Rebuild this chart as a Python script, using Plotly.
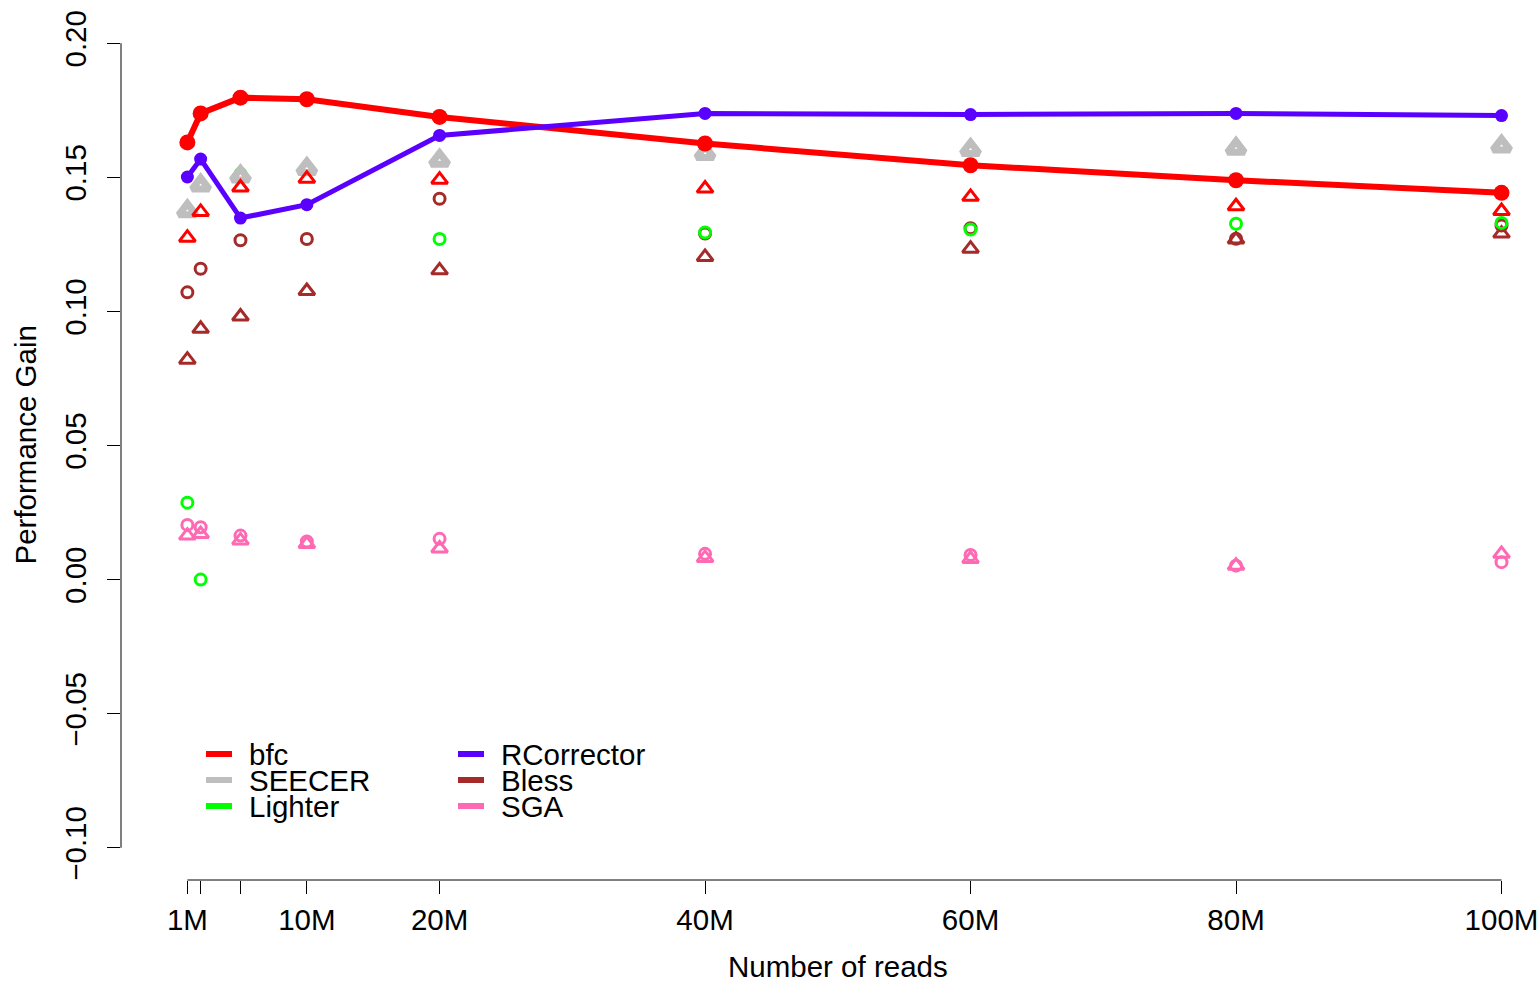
import plotly.graph_objects as go

# ---- data (x in millions of reads) ----
reads = [1, 2, 5, 10, 20, 40, 60, 80, 100]
x_tick_vals = [1, 2, 5, 10, 20, 40, 60, 80, 100]
x_tick_text = ["1M", "", "", "10M", "20M", "40M", "60M", "80M", "100M"]
y_tick_vals = [-0.10, -0.05, 0.00, 0.05, 0.10, 0.15, 0.20]
y_tick_text = ["\u22120.10", "\u22120.05", "0.00", "0.05", "0.10", "0.15", "0.20"]

bfc_line = [0.163, 0.1738, 0.1797, 0.1791, 0.1725, 0.1626, 0.1545, 0.1489, 0.1442]
rcorrector_line = [0.1501, 0.1568, 0.1348, 0.1398, 0.1656, 0.1738, 0.1734, 0.1738, 0.1730]
seecer_tri = [0.1374, 0.1470, 0.1504, 0.1532, 0.1563, 0.1588, 0.1603, 0.1607, 0.1616]
bfc_tri = [0.1275, 0.1371, 0.1462, 0.1495, 0.1491, 0.1458, 0.1427, 0.1392, 0.1374]
bless_circ = [0.1071, 0.1159, 0.1265, 0.1270, 0.1420, 0.1290, 0.1310, 0.1271, 0.1320]
bless_tri = [0.0820, 0.0935, 0.0981, 0.1076, 0.1153, 0.1203, 0.1234, 0.1268, 0.1290]
lighter_circ = [0.0287, 0.0000, 0.1512, None, 0.1270, 0.1294, 0.1305, 0.1327, 0.1330]
sga_circ = [0.0204, 0.0195, 0.0164, 0.0142, 0.0152, 0.0096, 0.0092, 0.0052, 0.0065]
sga_tri = [0.0164, 0.0170, 0.0146, 0.0133, 0.0116, 0.0081, 0.0077, 0.0052, 0.0096]

legend_col1 = ["bfc", "SEECER", "Lighter"]
legend_col2 = ["RCorrector", "Bless", "SGA"]

colors = {
    "bfc": "#FF0000",
    "RCorrector": "#5A00FF",
    "SEECER": "#BEBEBE",
    "Lighter": "#00FF00",
    "Bless": "#A52A2A",
    "SGA": "#FF69B4",
}

FONT = "Liberation Sans, Arial, Helvetica, sans-serif"
FS = 29.5

W, H = 1540, 984
ML, MR, MT = 121, 0, 11
PLOT_BOTTOM = 880
MB = H - PLOT_BOTTOM
XR = [-4, 102.9]
YR = [-0.112, 0.212]

fig = go.Figure()


def pts(name, y, symbol, size, lw, color):
    fig.add_trace(go.Scatter(
        x=reads, y=y, mode="markers", name=name, showlegend=False,
        marker=dict(symbol=symbol, size=size, color=color,
                    line=dict(width=lw, color=color)),
        hoverinfo="x+y+name",
    ))


pts("Bless (circle)", bless_circ, "circle-open", 11, 3, colors["Bless"])
pts("Bless (triangle)", bless_tri, "triangle-up-open", 14, 3, colors["Bless"])
pts("Lighter", lighter_circ, "circle-open", 11, 3, colors["Lighter"])
pts("SGA (triangle)", sga_tri, "triangle-up-open", 14, 3, colors["SGA"])
pts("SGA (circle)", sga_circ, "circle-open", 11, 3, colors["SGA"])
pts("SEECER", seecer_tri, "triangle-up-open", 15, 7, colors["SEECER"])
pts("bfc (triangle)", bfc_tri, "triangle-up-open", 14, 3, colors["bfc"])

fig.add_trace(go.Scatter(
    x=reads, y=bfc_line, mode="lines+markers", name="bfc", showlegend=False,
    line=dict(color=colors["bfc"], width=6),
    marker=dict(symbol="circle", size=16, color=colors["bfc"]),
))
fig.add_trace(go.Scatter(
    x=reads, y=rcorrector_line, mode="lines+markers", name="RCorrector", showlegend=False,
    line=dict(color=colors["RCorrector"], width=5),
    marker=dict(symbol="circle", size=13, color=colors["RCorrector"]),
))

# ---- helpers: pixel position -> paper coords (layout only) ----
pw = W - ML - MR
ph = H - MT - MB


def px(xp):
    return (xp - ML) / pw


def py(yp):
    return (PLOT_BOTTOM - yp) / ph


shapes = []
annotations = []

# axis lines spanning only the tick range (R style)
shapes.append(dict(type="line", xref="x", yref="paper",
                   x0=min(x_tick_vals), x1=max(x_tick_vals), y0=0, y1=0,
                   line=dict(color="black", width=1)))
shapes.append(dict(type="line", xref="paper", yref="y",
                   x0=0, x1=0, y0=min(y_tick_vals), y1=max(y_tick_vals),
                   line=dict(color="black", width=1)))

# manual legend
row_y = [754, 780, 806]
for names, lx0, tx in [(legend_col1, 206, 248), (legend_col2, 458, 500)]:
    for i, nm in enumerate(names):
        shapes.append(dict(type="line", xref="paper", yref="paper",
                           x0=px(lx0), x1=px(lx0 + 26), y0=py(row_y[i]), y1=py(row_y[i]),
                           line=dict(color=colors[nm], width=6)))
        annotations.append(dict(xref="paper", yref="paper", x=px(tx), y=py(row_y[i]),
                                text=nm, showarrow=False, xanchor="left", yanchor="middle",
                                borderpad=0,
                                font=dict(family=FONT, size=FS, color="black")))

# axis titles
annotations.append(dict(xref="x", yref="paper", x=(XR[0] + 104) / 2, y=py(966),
                        text="Number of reads", showarrow=False,
                        xanchor="center", yanchor="middle", borderpad=0,
                        font=dict(family=FONT, size=FS, color="black")))
annotations.append(dict(xref="paper", yref="y", x=px(25), y=(y_tick_vals[0] + y_tick_vals[-1]) / 2,
                        text="Performance Gain", showarrow=False, textangle=-90,
                        xanchor="center", yanchor="middle",
                        font=dict(family=FONT, size=FS, color="black")))

fig.update_layout(
    width=W, height=H,
    margin=dict(l=ML, r=MR, t=MT, b=MB, pad=0),
    paper_bgcolor="white", plot_bgcolor="white",
    showlegend=False,
    font=dict(family=FONT, size=FS, color="black"),
    shapes=shapes, annotations=annotations,
    xaxis=dict(range=XR, tickmode="array", tickvals=x_tick_vals, ticktext=x_tick_text,
               showgrid=False, zeroline=False, showline=False,
               ticks="outside", ticklen=13, tickwidth=1, tickcolor="black",
               ticklabelstandoff=1,
               tickfont=dict(family=FONT, size=FS, color="black")),
    yaxis=dict(range=YR, tickmode="array", tickvals=y_tick_vals, ticktext=y_tick_text,
               showgrid=False, zeroline=False, showline=False,
               ticks="outside", ticklen=13, tickwidth=1, tickcolor="black",
               tickangle=-90, ticklabelstandoff=9,
               tickfont=dict(family=FONT, size=FS, color="black")),
)

fig.write_html(
    "out.html",
    config={"displayModeBar": False},
    post_script="document.body.style.margin='0';document.body.style.overflow='hidden';",
)
